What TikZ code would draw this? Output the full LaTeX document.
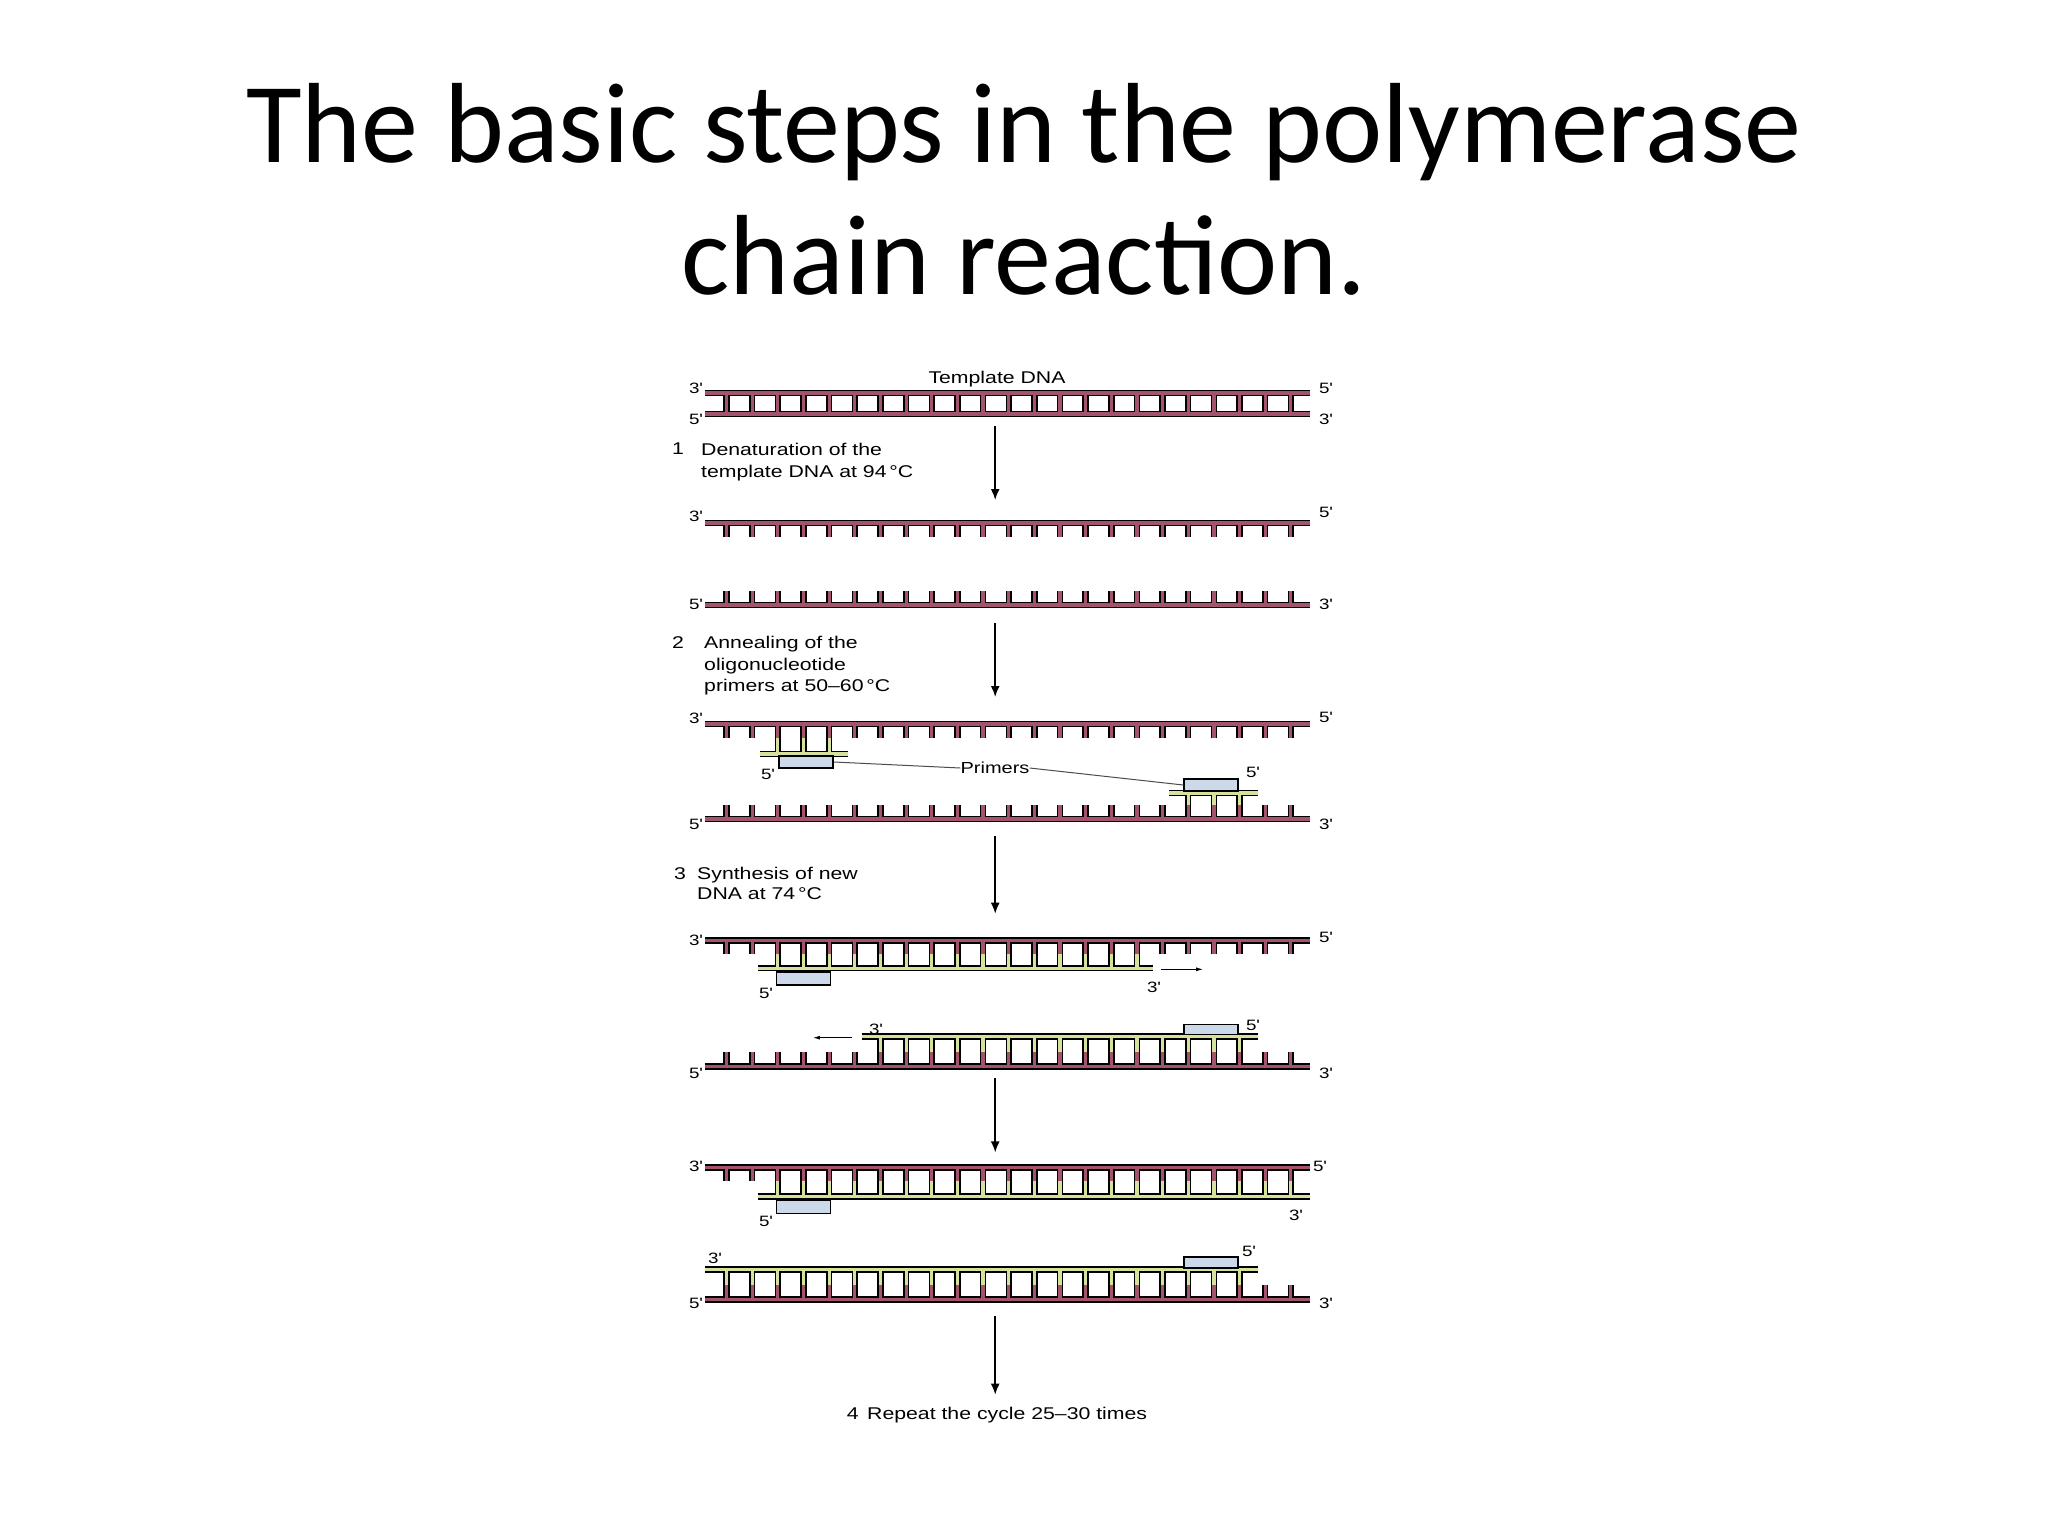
\documentclass[tikz,border=0pt]{standalone}
\usepackage{fontspec}
\setmainfont{Liberation Sans}
\newfontfamily\titlefont{Carlito}
\newfontfamily\dfont[FakeStretch=1.25]{Liberation Sans}
\definecolor{maroon}{HTML}{A3546C}
\definecolor{prim}{HTML}{D6E29C}
\definecolor{pbox}{HTML}{CBD9EA}
\newcommand\comb[6]{\draw[#1] (#2,#4)--(#3,#4) \foreach \k in {#6} {({713+19*\k},#4)--({713+19*\k},#5)};}
\newcommand\teeth[4]{\draw[#1] \foreach \k in {#4} {({713+19*\k},#2)--({713+19*\k},#3)};}
\usetikzlibrary{arrows.meta}
\tikzset{
  outl/.style={line width=6.4pt,black},
  mar/.style={line width=3.2pt,maroon},
  grn/.style={line width=3.2pt,prim},
  lab/.style={font=\dfont\fontsize{15}{17}\selectfont,inner sep=0pt},
  steptxt/.style={font=\dfont\fontsize{17}{21.5}\selectfont,inner sep=0pt,align=left,anchor=north west},
  pb/.style={draw=black,line width=1.8pt,fill=pbox,inner sep=0pt,minimum width=54pt},
  arr/.style={line width=1.8pt,-{Latex[length=11pt,width=9pt]}},
  sarr/.style={line width=1pt,-{Latex[length=7pt,width=4pt]}},
  ttl/.style={font=\titlefont\fontsize{114}{131}\selectfont,anchor=base,inner sep=0pt},
  zA/.style={cm={1.35,0,0,1,(-236pt,0pt)}},
  zB/.style={cm={1.35,0,0,1.159,(-236pt,141pt)}}
}
\begin{document}
\begin{tikzpicture}[x=1pt,y=-1pt]
\useasboundingbox[fill=white] (0,0) rectangle (2048,1536);
\node[ttl] (t1) at (1024,163) {The basic steps in the polymerase};
\node[ttl] (t2) at (1024,294) {chain reaction.};
\begin{scope}[zA]
\comb{outl}{697}{1145}{393}{404}{0,...,22}
\comb{outl}{697}{1145}{414}{404}{0,...,22}
\comb{outl}{697}{1145}{523}{537}{0,...,22}
\comb{outl}{697}{1145}{605}{591}{0,...,22}
\comb{outl}{697}{1145}{724}{738}{0,...,22}
\comb{outl}{697}{1145}{819}{805}{0,...,22}
\comb{outl}{738}{803}{754}{738}{2,3,4}
\comb{outl}{1041}{1107}{793}{805}{18,19,20}
\comb{mar}{697}{1145}{393}{404}{0,...,22}
\comb{mar}{697}{1145}{414}{404}{0,...,22}
\comb{mar}{697}{1145}{523}{537}{0,...,22}
\comb{mar}{697}{1145}{605}{591}{0,...,22}
\comb{mar}{697}{1145}{724}{738}{0,...,22}
\comb{mar}{697}{1145}{819}{805}{0,...,22}
\comb{grn}{738}{803}{754}{738}{2,3,4}
\comb{grn}{1041}{1107}{793}{805}{18,19,20}
\node[pb,minimum height=12pt] (pL) at (772,762) {};
\node[pb,minimum height=12pt] (pR) at (1072,785) {};
\coordinate (a1s) at (912,426); \coordinate (a1e) at (912,500);
\coordinate (a2s) at (912,623); \coordinate (a2e) at (912,697);
\end{scope}
\begin{scope}[zB]
\comb{outl}{697}{1145}{933}{945}{0,...,22}
\comb{outl}{736}{1029}{957}{945}{2,...,16}
\comb{outl}{697}{1145}{1042}{1029}{0,...,5,21,22}
\teeth{outl}{1042}{1029}{6,...,20}
\comb{outl}{813}{1107}{1016}{1029}{6,...,20}
\comb{outl}{697}{1145}{1129}{1141}{0,...,22}
\comb{outl}{736}{1145}{1154}{1141}{2,...,22}
\comb{outl}{697}{1145}{1243}{1230}{21,22}
\teeth{outl}{1243}{1230}{0,...,20}
\comb{outl}{697}{1107}{1217}{1230}{0,...,20}
\comb{mar}{697}{1145}{933}{945}{0,...,22}
\comb{grn}{736}{1029}{957}{945}{2,...,16}
\comb{mar}{697}{1145}{1042}{1029}{0,...,5,21,22}
\teeth{mar}{1042}{1029}{6,...,20}
\comb{grn}{813}{1107}{1016}{1029}{6,...,20}
\comb{mar}{697}{1145}{1129}{1141}{0,...,22}
\comb{grn}{736}{1145}{1154}{1141}{2,...,22}
\comb{mar}{697}{1145}{1243}{1230}{21,22}
\teeth{mar}{1243}{1230}{0,...,20}
\comb{grn}{697}{1107}{1217}{1230}{0,...,20}
\node[pb,minimum height=13pt] (b3a) at (770,966) {};
\node[pb,minimum height=10pt] (b3b) at (1072,1010) {};
\node[pb,minimum height=13pt] (b4a) at (770,1163) {};
\node[pb,minimum height=11pt] (b4b) at (1072,1211) {};
\coordinate (a3s) at (912,843); \coordinate (a3e) at (912,910);
\coordinate (a4s) at (912,1052); \coordinate (a4e) at (912,1116);
\coordinate (a5s) at (912,1257); \coordinate (a5e) at (912,1325);
\coordinate (r1s) at (1035,958); \coordinate (r1e) at (1066,958);
\coordinate (l1s) at (806,1017); \coordinate (l1e) at (777,1017);
\end{scope}
\foreach \i in {1,...,5} {\draw[arr] (a\i s) -- (a\i e);}
\draw[sarr] (r1s) -- (r1e);
\draw[sarr] (l1s) -- (l1e);
% ---------- labels ----------
\node[lab,font=\dfont\fontsize{17}{19}\selectfont] (tdna) at (997,379) {Template DNA};
\node[lab,font=\dfont\fontsize{16}{19}\selectfont] (primers) at (995,768) {Primers};
\draw[line width=1pt,gray!60!black] (pL.east) -- (primers.west);
\draw[line width=1pt,gray!60!black] (primers.east) -- (pR.west);
\foreach \n/\x/\y/\t in {a/696/388/3',b/696/419/5',c/1326/388/5',d/1326/419/3',
  e/696/516/3',f/1326/512/5',g/696/604/5',h/1326/604/3',
  i/696/718/3',j/1326/717/5',k/696/824/5',l/1326/824/3',
  m/768/774/5',n/1253/772/5',
  o/696/940/3',p/1326/937/5',q/766/993/5',r/1154/987/3',s/876/1029/3',u/1253/1025/5',v/696/1073/5',w/1326/1073/3',
  A/696/1166/3',B/1320/1166/5',C/766/1221/5',D/1296/1215/3',E/715/1258/3',F/1249/1251/5',G/696/1303/5',H/1326/1303/3'}
  {\node[lab] (e\n) at (\x,\y) {\t};}
% step texts
\node[steptxt] (s1n) at (672,443) {1};
\node[steptxt] (s1) at (701,443) {Denaturation of the\\template DNA at 94\,°C};
\node[steptxt] (s2n) at (672,636) {2};
\node[steptxt] (s2) at (704,636) {Annealing of the\\oligonucleotide\\primers at 50–60\,°C};
\node[steptxt] (s3n) at (674,867) {3};
\node[steptxt,font=\dfont\fontsize{17}{20}\selectfont] (s3) at (697,867) {Synthesis of new\\DNA at 74\,°C};
\node[lab,font=\dfont\fontsize{17}{19}\selectfont] (s4) at (997,1415) {4\,\,\,Repeat the cycle 25–30 times};
\end{tikzpicture}
\end{document}
